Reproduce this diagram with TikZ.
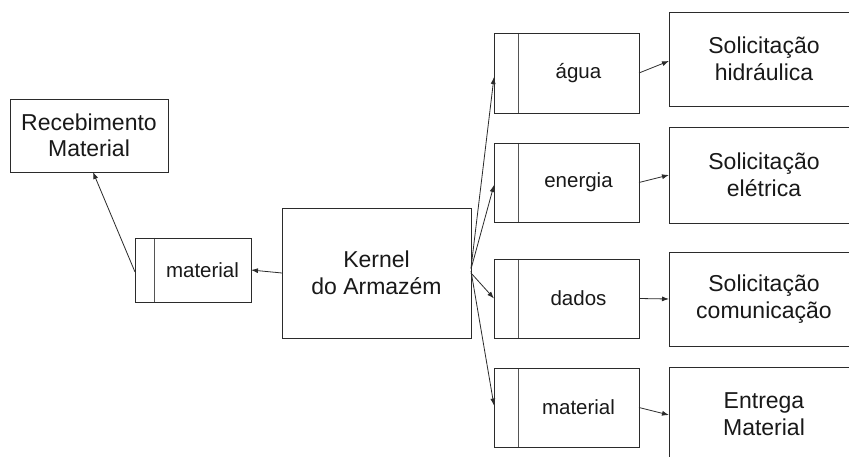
\documentclass[tikz,border=0pt]{standalone}
\usepackage{fontspec}
\setmainfont{Liberation Sans}
\usetikzlibrary{arrows.meta}
\definecolor{edge}{HTML}{2b2b2b}
\tikzset{
  box/.style={draw=edge, line width=0.9pt, rectangle, inner sep=0pt, outer sep=0pt,
    font=\fontsize{23}{26.5}\selectfont, align=center, text=black!90},
  buf/.style={draw=edge, line width=0.9pt, rectangle, inner sep=0pt, outer sep=0pt,
    font=\fontsize{20.5}{24}\selectfont, text=black!90,
    path picture={\draw[edge!80, line width=0.9pt]
      ([xshift=#1]path picture bounding box.north west) --
      ([xshift=#1]path picture bounding box.south west);}},
  conn/.style={draw=edge, line width=0.8pt, -{Latex[length=7pt,width=5pt]}}
}
\begin{document}
\begin{tikzpicture}[x=1pt, y=-1pt]
\path[use as bounding box, clip] (0,0) rectangle (849,457);
\fill[white] (0,0) rectangle (849,457);

\node[box, minimum width=158pt, minimum height=73pt] (rec) at (89,135.5) {Recebimento\\Material};
\node[buf=19pt, minimum width=116pt, minimum height=64pt] (bufL) at (193,270) {\hspace*{19pt}material};
\node[box, minimum width=189pt, minimum height=130pt] (kernel) at (376.5,273) {Kernel\\do Armazém};

\node[buf=24pt, minimum width=145pt, minimum height=80pt] (agua) at (566.5,73) {\hspace*{24pt}água};
\node[buf=24pt, minimum width=145pt, minimum height=79pt] (energia) at (566.5,182.5) {\hspace*{24pt}energia};
\node[buf=24pt, minimum width=145pt, minimum height=79pt] (dados) at (566.5,298.5) {\hspace*{24pt}dados};
\node[buf=24pt, minimum width=145pt, minimum height=79pt] (matR) at (566.5,407.5) {\hspace*{24pt}material};

\node[box, minimum width=190pt, minimum height=94pt] (hid) at (764,59) {Solicitação\\hidráulica};
\node[box, minimum width=190pt, minimum height=96pt] (ele) at (764,175) {Solicitação\\elétrica};
\node[box, minimum width=190pt, minimum height=94pt] (com) at (764,299) {Solicitação\\comunicação};
\node[box, minimum width=190pt, minimum height=94pt] (ent) at (764,414) {Entrega\\Material};

\draw[conn] (kernel.west) -- (bufL.east);
\draw[conn] ([yshift=-2pt]bufL.west) -- ([xshift=4pt]rec.south);
\draw[conn] ([yshift=5pt]kernel.east) -- ([yshift=-4pt]agua.west);
\draw[conn] ([yshift=4pt]kernel.east) -- ([yshift=-2.5pt]energia.west);
\draw[conn] (kernel.east) -- (dados.west);
\draw[conn] ([yshift=2pt]kernel.east) -- ([yshift=2pt]matR.west);
\draw[conn] (agua.east) -- ([yshift=-2pt]hid.west);
\draw[conn] (energia.east) -- (ele.west);
\draw[conn] (dados.east) -- (com.west);
\draw[conn] (matR.east) -- ([yshift=-1pt]ent.west);
\end{tikzpicture}
\end{document}
